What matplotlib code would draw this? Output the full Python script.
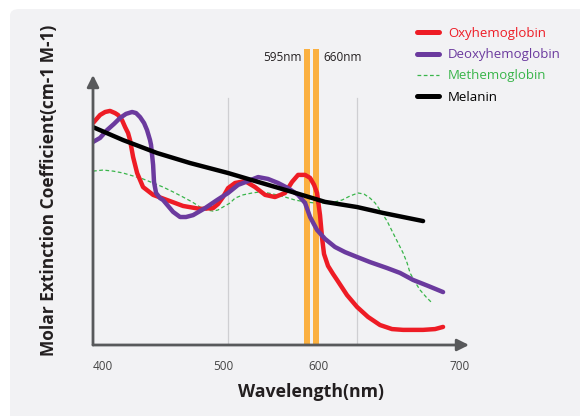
import matplotlib
matplotlib.use("Agg")
from matplotlib import pyplot as plt
from matplotlib.patches import FancyBboxPatch

plt.rcParams['font.family'] = ['Open Sans', 'DejaVu Sans']

# Schematic absorption curves (wavelength in nm, arbitrary units)
oxy_x = [395.3, 400.8, 404.7, 408.5, 412.4, 414.7, 417.8, 420.2, 422.5, 424.0,
         426.4, 429.5, 434.1, 441.9, 452.7, 465.1, 478.3, 488.4, 492.2, 496.1,
         500.0, 505.4, 513.2, 520.9, 528.7, 536.4, 544.2, 549.6, 554.3, 559.7,
         563.6, 566.7, 569.0, 571.3, 572.9, 574.4, 577.5, 581.4, 584.5, 592.2,
         600.0, 608.5, 617.8, 627.1, 635.7, 651.2, 660.5, 666.7]
oxy_y = [82.2, 85.2, 86.3, 86.7, 85.9, 85.2, 83.3, 80.7, 78.5, 75.9,
         69.6, 63.7, 58.5, 55.6, 53.7, 51.5, 50.4, 50.7, 52.2, 54.8,
         58.1, 60.0, 60.7, 58.5, 55.6, 54.8, 56.3, 60.4, 63.0, 63.0,
         61.9, 59.3, 56.3, 48.1, 39.6, 33.7, 29.3, 26.3, 24.1, 18.5,
         14.1, 10.4, 7.4, 5.9, 5.6, 5.6, 5.9, 6.7]

deoxy_x = [395.3, 400.8, 406.2, 411.6, 416.3, 420.9, 425.6, 428.7, 431.8, 434.9,
           437.2, 439.5, 440.3, 441.9, 442.6, 444.2, 447.3, 449.6, 453.5, 457.4,
           462.8, 467.4, 472.9, 482.2, 491.5, 500.0, 507.8, 515.5, 523.3, 531.0,
           538.8, 546.5, 554.3, 559.7, 563.6, 569.0, 575.2, 582.9, 590.7, 600.0,
           610.1, 623.3, 633.3, 643.4, 655.0, 666.7]
deoxy_y = [75.2, 76.7, 79.6, 81.9, 84.1, 85.6, 86.3, 85.9, 84.4, 82.2,
           79.6, 75.9, 74.1, 66.7, 60.4, 56.3, 54.4, 53.7, 51.5, 49.3,
           47.4, 47.4, 48.1, 50.7, 53.7, 56.3, 59.3, 60.7, 62.2, 61.5,
           60.0, 58.1, 55.6, 52.6, 47.4, 42.6, 39.3, 36.3, 34.4, 32.6,
           30.7, 28.5, 26.7, 24.1, 21.9, 19.6]

met_x = [395.3, 403.1, 410.9, 418.6, 426.4, 434.1, 441.9, 449.6, 457.4, 465.1,
         472.1, 478.3, 483.7, 488.4, 492.2, 496.1, 501.6, 505.4, 511.6, 518.6,
         524.8, 531.0, 538.0, 544.2, 551.9, 559.7, 567.4, 575.2, 582.9, 588.4,
         594.6, 600.8, 605.4, 610.1, 614.0, 617.8, 623.3, 627.9, 631.8, 635.7,
         638.8, 641.1, 645.0, 648.8, 653.5, 658.1]
met_y = [64.4, 64.8, 64.4, 63.7, 62.6, 61.5, 60.0, 58.5, 56.7, 54.8,
         53.0, 51.1, 50.0, 49.6, 50.0, 51.1, 52.6, 54.4, 55.6, 56.3,
         56.7, 56.3, 55.6, 54.8, 53.7, 53.0, 52.6, 52.6, 53.0, 53.7,
         55.2, 56.3, 55.9, 54.4, 52.6, 50.0, 45.9, 41.5, 37.8, 34.1,
         30.4, 26.7, 23.3, 20.4, 17.8, 15.6]

mel_x = [395.3, 418.6, 445.0, 470.5, 500.0, 523.3, 549.6, 575.2, 600.0, 620.2, 651.2]
mel_y = [80.7, 75.9, 71.1, 67.4, 63.7, 60.4, 56.7, 53.0, 51.1, 48.9, 45.9]

# Light source markers
band_x = [561.2, 568.2]
band_labels = ['595nm', '660nm']
band_top = 109.6
band_width = 4.6

grid_x = [500, 600]
tick_pos = [403.1, 496.1, 570.5, 679.8]
tick_labels = ['400', '500', '600', '700']

RED = '#ee1c25'
PURPLE = '#6b3a9e'
GREEN = '#39b54a'
ORANGE = '#fbb040'
AXIS = '#58595b'

fig = plt.figure(figsize=(5.8, 4.16), dpi=100)
fig.patch.set_facecolor('white')
W, H = 580, 416
bg = FancyBboxPatch((10 / W, -0.2), 1.3, 1.2 - 9 / H, transform=fig.transFigure,
                    boxstyle='round,pad=0,rounding_size=0.016',
                    facecolor='#f2f2f4', edgecolor='none', zorder=-10)
fig.patches.append(bg)

ax = fig.add_axes([93 / W, 1 - 345 / H, (469 - 93) / W, (345 - 75) / H])
ax.set_facecolor('none')
ax.set_xlim(395.3, 686.8)
ax.set_ylim(0, 100)
for s in ax.spines.values():
    s.set_visible(False)

for gx in grid_x:
    ax.plot([gx, gx], [0, 91.5], color='#cfcfd2', lw=0.9, zorder=1)

ax.bar(band_x, band_top, width=band_width, bottom=0, color=ORANGE,
       zorder=2, clip_on=False)
ax.annotate(band_labels[0], (band_x[0] - band_width / 2, 106.5), xytext=(-2, 0),
            textcoords='offset points', ha='right', va='center', fontsize=8.5,
            color='#231f20', annotation_clip=False)
ax.annotate(band_labels[1], (band_x[1] + band_width / 2, 106.5), xytext=(3, 0),
            textcoords='offset points', ha='left', va='center', fontsize=8.5,
            color='#231f20', annotation_clip=False)

ax.plot(oxy_x, oxy_y, color=RED, lw=3.2, solid_joinstyle='round',
        solid_capstyle='round', label='Oxyhemoglobin', zorder=4)
ax.plot(deoxy_x, deoxy_y, color=PURPLE, lw=3.2, solid_joinstyle='round',
        solid_capstyle='round', label='Deoxyhemoglobin', zorder=5)
ax.plot(met_x, met_y, color=GREEN, lw=0.9, ls=(0, (3, 2)),
        label='Methemoglobin', zorder=3)
ax.plot(mel_x, mel_y, color='black', lw=3.2, solid_capstyle='round',
        label='Melanin', zorder=6)

# axis arrows
arrow = dict(arrowstyle='-|>,head_length=0.7,head_width=0.35', color=AXIS,
             lw=2, shrinkA=0, shrinkB=0)
ax.annotate('', xy=(1, 0), xytext=(0, 0), xycoords='axes fraction',
            arrowprops=arrow, zorder=7)
ax.annotate('', xy=(0, 1), xytext=(0, 0), xycoords='axes fraction',
            arrowprops=arrow, zorder=7)

ax.set_xticks(tick_pos, tick_labels)
ax.set_yticks([])
ax.tick_params(axis='x', length=0, pad=11, labelsize=8.5, labelcolor='#444444')

fig.text(311 / W, 1 - 392 / H, 'Wavelength(nm)', ha='center', va='center',
         fontsize=12.8, fontweight='bold', color='#231f20')
fig.text(49 / W, 1 - 190 / H, 'Molar Extinction Coefficient(cm-1 M-1)',
         ha='center', va='center', rotation=90, fontsize=12.5,
         fontweight='bold', color='#231f20')

leg = ax.legend(loc='upper left', bbox_to_anchor=(417 / W, 1 - 27 / H),
                bbox_transform=fig.transFigure, frameon=False, fontsize=9.5,
                handlelength=1.7, handletextpad=0.65, labelspacing=0.62,
                borderpad=0, borderaxespad=0, labelcolor='linecolor')
for line in leg.get_lines():
    if line.get_linestyle() == '-':
        line.set_linewidth(3.6)

fig.savefig('out.png', dpi=100)
